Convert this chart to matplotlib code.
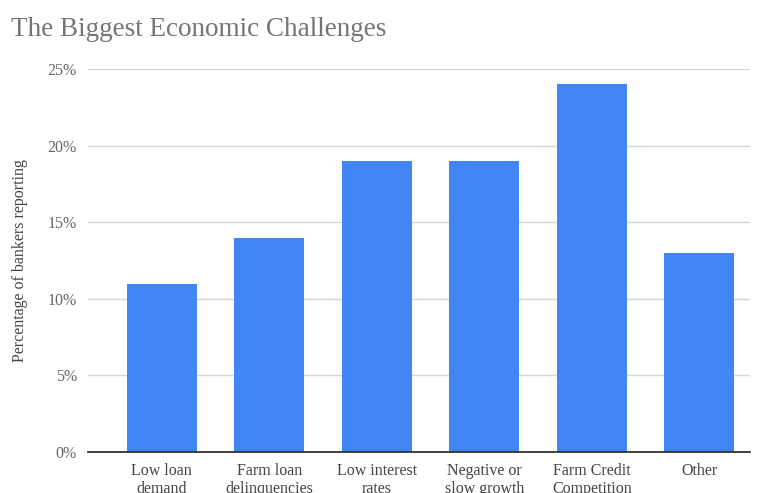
import matplotlib.pyplot as plt
import numpy as np

plt.rcParams.update(
    {
        "font.family": ["Liberation Serif", "DejaVu Serif"],
        "axes.spines.top": False,
        "axes.spines.right": False,
        "axes.spines.left": False,
    }
)

categories = [
    "Low loan\ndemand",
    "Farm loan\ndelinquencies",
    "Low interest\nrates",
    "Negative or\nslow growth",
    "Farm Credit\nCompetition",
    "Other",
]
shares = [11, 14, 19, 19, 24, 13]
yticks = [0, 5, 10, 15, 20, 25]

fig = plt.figure(figsize=(7.59, 4.93), dpi=100)
ax = fig.add_axes([0.116, 0.083, 0.872, 0.777])

x = np.arange(len(categories))
ax.bar(x, shares, width=0.65, color="#4285F4", zorder=2)

ax.set_xlim(-0.684, 5.47)
ax.set_ylim(0, 25)
ax.set_yticks(yticks)
ax.set_yticklabels([f"{v}%" for v in yticks], fontsize=11.5, color="#666666")
ax.tick_params(axis="y", length=0, pad=8)
ax.yaxis.grid(True, color="#d6d6d6", linewidth=1, zorder=0)

# second line of the labels runs off the bottom edge, as in the source image
ax.set_xticks(x)
ax.set_xticklabels(categories, fontsize=11.5, color="#444444", linespacing=1.15)
ax.tick_params(axis="x", length=0, pad=8)
ax.spines["bottom"].set_color("#333333")
ax.spines["bottom"].set_linewidth(1.3)
ax.spines["bottom"].set_zorder(3)

ax.set_ylabel("Percentage of bankers reporting", fontsize=11.5, color="#444444", labelpad=14)

fig.text(0.014, 0.94, "The Biggest Economic Challenges", fontsize=19.5,
         color="#757575", ha="left", va="center")

fig.savefig("out.png", dpi=100)
